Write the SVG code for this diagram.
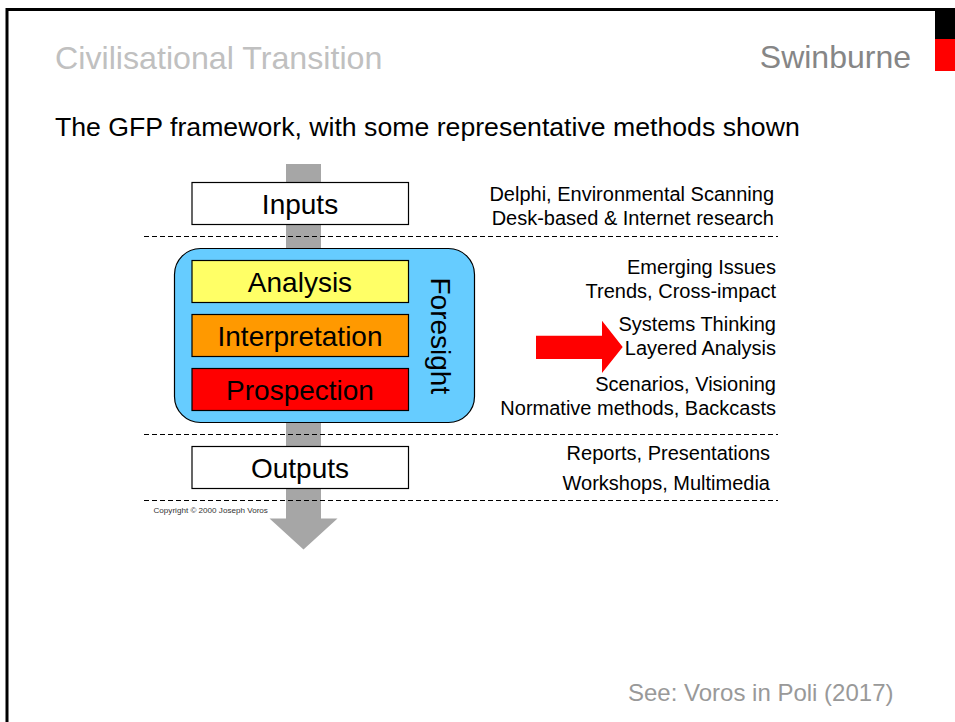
<svg xmlns="http://www.w3.org/2000/svg" width="955" height="722" viewBox="0 0 955 722">
<style>
text{font-family:"Liberation Sans",Arial,sans-serif;fill:#000}
.box{stroke:#000;stroke-width:1.2}
.lbl{font-size:28px;text-anchor:middle}
.side{font-size:20px;text-anchor:end}
.dash{stroke:#000;stroke-width:1;stroke-dasharray:5 3;fill:none}
.grey{fill:#a6a6a6}
</style>
<rect width="955" height="722" fill="#fff"/>
<path d="M7 722V9.500H935" fill="none" stroke="#000" stroke-width="3"/>
<rect x="935" y="8" width="20" height="31" fill="#000"/>
<rect x="935" y="39" width="20" height="32" fill="#f00"/>
<text x="55" y="69" font-size="32.200" style="fill:#c0c0c0">Civilisational Transition</text>
<text x="911" y="68" font-size="32" text-anchor="end" style="fill:#868686">Swinburne</text>
<text x="55" y="136" font-size="26.660">The GFP framework, with some representative methods shown</text>
<g id="connectors">
<path id="flow-arrow" class="grey" d="M286 164H321V518.500H337.500L303.500 549.500L269.500 518.500H286Z"/>
<path id="red-arrow" fill="#f00" d="M536 335.700H602V320.700L622.700 347L602 373V359H536Z"/>
<line class="dash" x1="144" y1="236.500" x2="778" y2="236.500"/>
<line class="dash" x1="144" y1="434.500" x2="778" y2="434.500"/>
<line class="dash" x1="144" y1="500.500" x2="778" y2="500.500"/>
</g>
<g id="inputs"><rect class="box" x="192" y="182.500" width="216.500" height="42" fill="#fff"/><text class="lbl" x="300" y="214">Inputs</text></g>
<g id="foresight"><rect class="box" x="174.500" y="248.500" width="300" height="174" rx="26" fill="#66ccff"/><text class="lbl" transform="translate(431 277.500) rotate(90)" style="text-anchor:start">Foresight</text></g>
<g id="analysis"><rect class="box" x="192" y="260.500" width="216.500" height="42" fill="#ffff66"/><text class="lbl" x="300" y="292">Analysis</text></g>
<g id="interpretation"><rect class="box" x="192" y="314.500" width="216.500" height="42" fill="#ff9900"/><text class="lbl" x="300" y="346">Interpretation</text></g>
<g id="prospection"><rect class="box" x="192" y="368.500" width="216.500" height="42" fill="#f00"/><text class="lbl" x="300" y="400">Prospection</text></g>
<g id="outputs"><rect class="box" x="192" y="446.500" width="216.500" height="42" fill="#fff"/><text class="lbl" x="300" y="478">Outputs</text></g>
<text class="side" x="774" y="201">Delphi, Environmental Scanning</text>
<text class="side" x="774" y="225">Desk-based &amp; Internet research</text>
<text class="side" x="776" y="274">Emerging Issues</text>
<text class="side" x="776" y="298">Trends, Cross-impact</text>
<text class="side" x="776" y="331">Systems Thinking</text>
<text class="side" x="776" y="355">Layered Analysis</text>
<text class="side" x="776" y="391">Scenarios, Visioning</text>
<text class="side" x="776" y="415">Normative methods, Backcasts</text>
<text class="side" x="770" y="460">Reports, Presentations</text>
<text class="side" x="770" y="490">Workshops, Multimedia</text>
<text x="153.500" y="513" font-size="8.100" style="fill:#333">Copyright © 2000 Joseph Voros</text>
<text x="893.500" y="701" font-size="24" text-anchor="end" style="fill:#999">See: Voros in Poli (2017)</text>
</svg>
